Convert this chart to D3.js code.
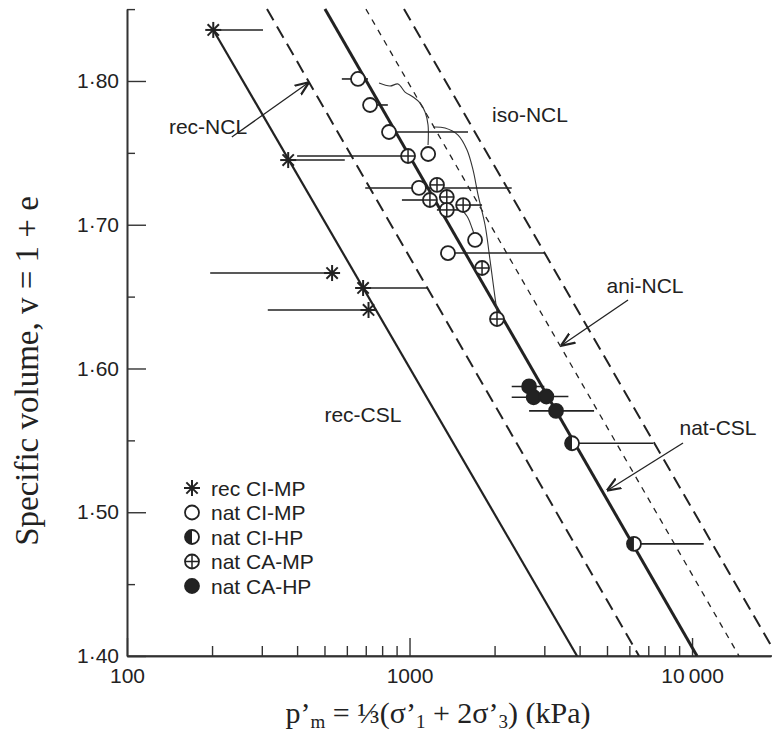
<!DOCTYPE html>
<html>
<head>
<meta charset="utf-8">
<script src="https://cdn.jsdelivr.net/npm/d3@7"></script>
<style>
  body { margin: 0; background: #fff; }
  text { fill: #222; }
</style>
</head>
<body>
<div id="chart"></div>
<script>
// reference lines: [p'm, v] at top and bottom end
const lineNames = ["rec-CSL", "rec-NCL", "nat-CSL", "ani-NCL", "iso-NCL"]
const lineTop = [[202, 1.8355], [313, 1.85], [502, 1.85], [701, 1.85], [956, 1.85]]
const lineBottom = [[3917, 1.40], [6493, 1.40], [10416, 1.40], [14669, 1.40], [19993, 1.40]]

// points: [p'm, v, bar start, bar end]
const recCIMP = [[202, 1.8355, 202, 303], [372, 1.745, 372, 590], [532, 1.6664, 197, 532],
                 [685, 1.656, 685, 1163], [716, 1.6407, 315, 716]]
const natCIMP = [[657, 1.8014, 576, 713], [725, 1.7833, 725, 838], [846, 1.7645, 846, 1611],
                 [1164, 1.7492], [1080, 1.7256, 697, 2300], [1706, 1.6894], [1368, 1.6803, 1368, 3017]]
const natCAMP = [[988, 1.7478, 400, 988], [1251, 1.7277], [1181, 1.7172, 940, 1181], [1355, 1.7193],
                 [1355, 1.7103, 1250, 1600], [1548, 1.7137, 1548, 1806], [1806, 1.6699], [2040, 1.6344]]
const natCAHP = [[2650, 1.5875, 2300, 3000], [2750, 1.580, 2300, 3200], [3050, 1.5805, 2750, 3650],
                 [3300, 1.5705, 2650, 4500]]
const natCIHP = [[3760, 1.548, 3760, 7278], [6229, 1.478, 6229, 11000]]

// stress paths (thin curves)
const pathA = [[780, 1.7986], [853, 1.7965], [911, 1.7979], [964, 1.7923], [1029, 1.7889],
               [1089, 1.7847], [1135, 1.7784], [1163, 1.7694], [1163, 1.7555]]
const pathB = [[1211, 1.7680], [1336, 1.7673], [1485, 1.7624], [1598, 1.7520], [1678, 1.7381],
               [1748, 1.7207], [1851, 1.6998], [1927, 1.6755], [1991, 1.6546], [2040, 1.6393]]
const pathC = [[1534, 1.7103], [1611, 1.7047], [1664, 1.6977], [1692, 1.6936]]

const yTicks = [1.40, 1.50, 1.60, 1.70, 1.80]
const yMinor = [1.45, 1.55, 1.65, 1.75, 1.85]
const xTicks = [100, 1000, 10000]
const xTickLabels = ["100", "1000", "10\u2009000"]
const xMinor = [200, 300, 400, 500, 600, 700, 800, 900, 2000, 3000, 4000, 5000, 6000, 7000, 8000, 9000]

const legendLabels = ["rec CI-MP", "nat CI-MP", "nat CI-HP", "nat CA-MP", "nat CA-HP"]
const legendKinds = ["star", "open", "half", "plus", "filled"]

const width = 772, height = 733
const sans = "'Liberation Sans', Arial, sans-serif"
const serif = "'Liberation Serif', 'Times New Roman', serif"

const x = d3.scaleLog().domain([100, 19000]).range([127, 770.8])
const y = d3.scaleLinear().domain([1.40, 1.85]).range([656, 9.1])

const svg = d3.select("#chart").append("svg")
    .attr("width", width).attr("height", height)

svg.append("defs").append("clipPath").attr("id", "plot")
    .append("rect").attr("x", 127).attr("y", 0).attr("width", width - 127).attr("height", 656)
const marker = svg.select("defs").append("marker").attr("id", "arrow")
    .attr("viewBox", "0 0 10 10").attr("refX", 9).attr("refY", 5)
    .attr("markerWidth", 14).attr("markerHeight", 14).attr("markerUnits", "userSpaceOnUse")
    .attr("orient", "auto")
marker.append("path").attr("d", "M0,1 L10,5 L0,9").attr("fill", "none").attr("stroke", "#222").attr("stroke-width", 1.6)

// axes
const yAxis = d3.axisLeft(y).tickValues(yTicks).tickSizeInner(-19).tickSizeOuter(0).tickPadding(8)
    .tickFormat(d => d3.format(".2f")(d).replace(".", "·"))
const gy = svg.append("g").attr("transform", "translate(127,0)").call(yAxis)
svg.append("g").attr("transform", "translate(127,0)")
    .call(d3.axisLeft(y).tickValues(yMinor).tickSizeInner(-8).tickSizeOuter(0).tickFormat(""))
const xAxis = d3.axisBottom(x).tickValues(xTicks).tickSizeInner(-18).tickSizeOuter(0).tickPadding(12)
    .tickFormat((d, i) => xTickLabels[i])
const gx = svg.append("g").attr("transform", "translate(0,656)").call(xAxis)
svg.append("g").attr("transform", "translate(0,656)")
    .call(d3.axisBottom(x).tickValues(xMinor).tickSizeInner(-10).tickSizeOuter(0).tickFormat(""))
svg.selectAll(".domain").attr("stroke", "#333").attr("stroke-width", 1.6)
svg.selectAll(".tick line").attr("stroke", "#333").attr("stroke-width", 1.4)
svg.selectAll(".tick text").attr("font-family", sans).attr("font-size", 21).attr("fill", "#333")
svg.append("line").attr("x1", 127).attr("x2", width).attr("y1", 656).attr("y2", 656)
    .attr("stroke", "#333").attr("stroke-width", 1.6)

// axis titles
svg.append("text").attr("transform", "translate(38,371) rotate(-90)")
    .attr("text-anchor", "middle").attr("font-family", serif).attr("font-size", 33)
    .text("Specific volume, v = 1 + e")
const xt = svg.append("text").attr("x", 438).attr("y", 723).attr("text-anchor", "middle")
    .attr("font-family", serif).attr("font-size", 30)
xt.append("tspan").text("p’")
xt.append("tspan").attr("font-size", 19).attr("dy", 5).text("m")
xt.append("tspan").attr("dy", -5).text(" = ⅓(σ’")
xt.append("tspan").attr("font-size", 19).attr("dy", 5).text("1")
xt.append("tspan").attr("dy", -5).text(" + 2σ’")
xt.append("tspan").attr("font-size", 19).attr("dy", 5).text("3")
xt.append("tspan").attr("dy", -5).text(") (kPa)")

const plot = svg.append("g").attr("clip-path", "url(#plot)")

// reference lines
const lineStyle = [
  {w: 2.2, dash: null},
  {w: 2.0, dash: "13,7"},
  {w: 3.0, dash: null},
  {w: 1.3, dash: "6,6"},
  {w: 2.0, dash: "13,7"}
]
lineNames.forEach((n, i) => {
  plot.append("line")
      .attr("x1", x(lineTop[i][0])).attr("y1", y(lineTop[i][1]))
      .attr("x2", x(lineBottom[i][0])).attr("y2", y(lineBottom[i][1]))
      .attr("stroke", "#222").attr("stroke-width", lineStyle[i].w)
      .attr("stroke-dasharray", lineStyle[i].dash)
})

// stress paths
const curve = d3.line().x(d => x(d[0])).y(d => y(d[1])).curve(d3.curveCatmullRom)
;[pathA, pathB, pathC].forEach(p => {
  plot.append("path").attr("d", curve(p)).attr("fill", "none")
      .attr("stroke", "#333").attr("stroke-width", 1.1)
})

// horizontal bars
const allPts = [recCIMP, natCIMP, natCAMP, natCAHP, natCIHP]
allPts.forEach(set => {
  plot.selectAll(null).data(set.filter(d => d.length > 2)).join("line")
      .attr("x1", d => x(d[2])).attr("x2", d => x(d[3]))
      .attr("y1", d => y(d[1])).attr("y2", d => y(d[1]))
      .attr("stroke", "#222").attr("stroke-width", 1.6)
})

// symbols
function drawSymbol(g, kind, cx, cy) {
  const r = 7
  if (kind == "star") {
    [0, 45, 90, 135].forEach(a => {
      const dx = Math.cos(a * Math.PI / 180) * 8, dy = Math.sin(a * Math.PI / 180) * 8
      g.append("line").attr("x1", cx - dx).attr("x2", cx + dx).attr("y1", cy - dy).attr("y2", cy + dy)
          .attr("stroke", "#222").attr("stroke-width", 2)
    })
    return
  }
  const fill = kind == "filled" ? "#222" : "#fff"
  g.append("circle").attr("cx", cx).attr("cy", cy).attr("r", r)
      .attr("fill", fill).attr("stroke", "#222").attr("stroke-width", 1.8)
  if (kind == "plus") {
    g.append("line").attr("x1", cx - r).attr("x2", cx + r).attr("y1", cy).attr("y2", cy)
        .attr("stroke", "#222").attr("stroke-width", 1.5)
    g.append("line").attr("x1", cx).attr("x2", cx).attr("y1", cy - r).attr("y2", cy + r)
        .attr("stroke", "#222").attr("stroke-width", 1.5)
  }
  if (kind == "half") {
    g.append("path").attr("d", `M${cx},${cy - r} A${r},${r} 0 0,0 ${cx},${cy + r} Z`).attr("fill", "#222")
  }
}
const kinds = ["star", "open", "plus", "filled", "half"]
allPts.forEach((set, i) => {
  const g = plot.append("g")
  set.forEach(d => drawSymbol(g, kinds[i], x(d[0]), y(d[1])))
})

// annotations: label position (p, v baseline), arrow from / to
const annText = ["rec-NCL", "iso-NCL", "ani-NCL", "nat-CSL", "rec-CSL"]
const annPos = [[193.5, 1.7631], [2670, 1.7714], [6817, 1.6525], [12360, 1.5537], [684, 1.5627]]
const annArrow = [[[235, 1.761], [437, 1.7986]], null, [[5935, 1.6477], [3466, 1.6163]],
                  [[9291, 1.5482], [5042, 1.5155]], null]
annText.forEach((t, i) => {
  svg.append("text").attr("x", x(annPos[i][0])).attr("y", y(annPos[i][1]))
      .attr("text-anchor", "middle").attr("font-family", sans).attr("font-size", 21).text(t)
  if (annArrow[i]) {
    svg.append("line")
        .attr("x1", x(annArrow[i][0][0])).attr("y1", y(annArrow[i][0][1]))
        .attr("x2", x(annArrow[i][1][0])).attr("y2", y(annArrow[i][1][1]))
        .attr("stroke", "#222").attr("stroke-width", 1.3).attr("marker-end", "url(#arrow)")
  }
})

// legend
const lg = svg.append("g")
legendLabels.forEach((l, i) => {
  const ly = 488 + i * 24.5
  drawSymbol(lg, legendKinds[i], 192, ly)
  lg.append("text").attr("x", 211).attr("y", ly).attr("dy", "0.36em")
      .attr("font-family", sans).attr("font-size", 21).text(l)
})
</script>
</body>
</html>
